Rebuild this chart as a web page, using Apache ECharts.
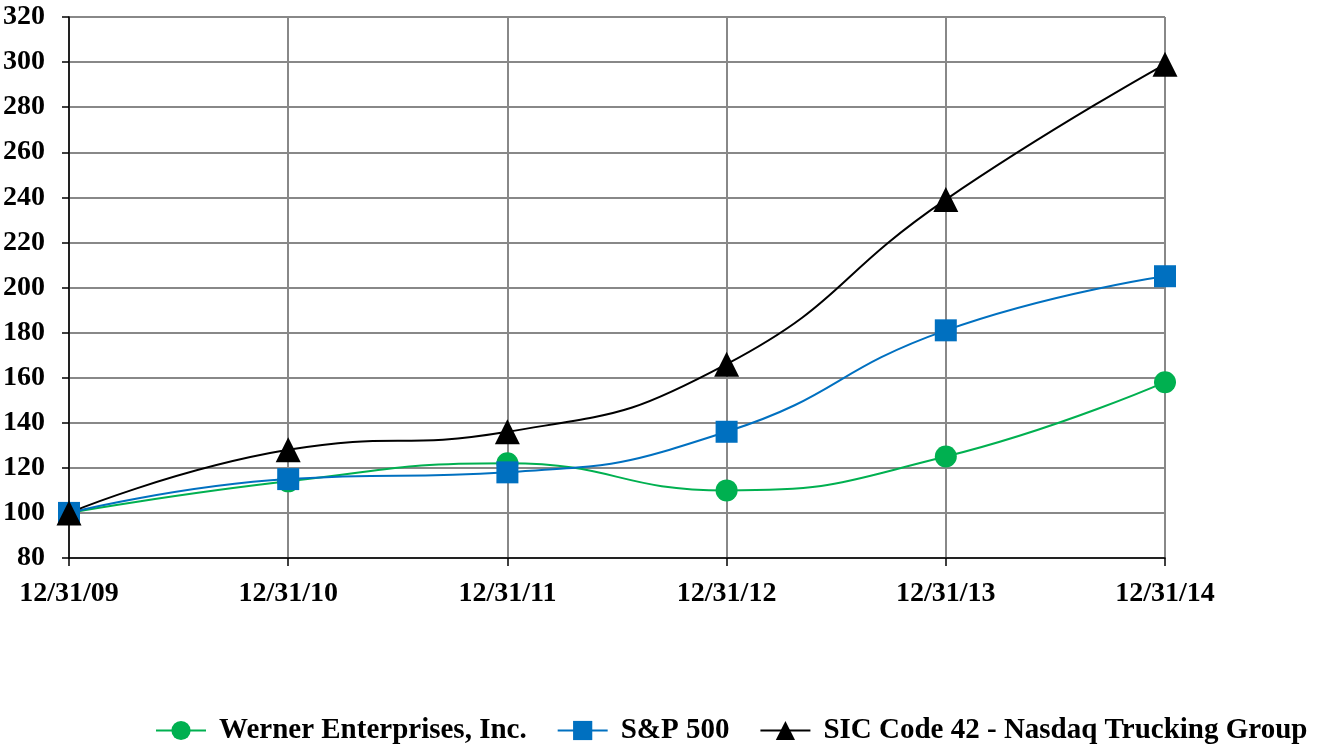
<!DOCTYPE html>
<html>
<head>
<meta charset="utf-8">
<script src="https://cdn.jsdelivr.net/npm/echarts@6/dist/echarts.min.js"></script>
<style>html,body{margin:0;padding:0;background:#fff}#c{width:1326px;height:747px}</style>
</head>
<body>
<div id="c"></div>
<script>
const categories = ['12/31/09','12/31/10','12/31/11','12/31/12','12/31/13','12/31/14'];
const werner = [100, 114, 122, 110, 125, 158];
const sp500 = [100, 115, 118, 136, 181, 205];
const sic42 = [100, 128, 136, 166, 239, 299];
const seriesNames = ['Werner Enterprises, Inc.', 'S&P 500', 'SIC Code 42 - Nasdaq Trucking Group'];

const font = 'Liberation Serif';
const chart = echarts.init(document.getElementById('c'));
function mk(name, data, color, symbol) {
  return {
    name, type: 'line', data, smooth: 0.5,
    symbol, symbolSize: symbol === 'triangle' ? 25 : 22,
    showSymbol: true,
    lineStyle: { color, width: 2 },
    itemStyle: { color, opacity: 1 },
    emphasis: { disabled: true },
    animation: false
  };
}
chart.setOption({
  backgroundColor: '#fff',
  animation: false,
  grid: { left: 69, right: 161, top: 17, bottom: 189, containLabel: false },
  legend: {
    left: 150, top: 711,
    itemWidth: 50, itemHeight: 24, itemGap: 30,
    textStyle: { fontFamily: font, fontWeight: 'bold', fontSize: 29, color: '#000', padding: [0, 0, 0, 8] },
    data: seriesNames
  },
  xAxis: {
    type: 'category', data: categories, boundaryGap: false,
    axisLine: { lineStyle: { color: '#000', width: 1.5 } },
    axisTick: { show: true, length: 8, lineStyle: { color: '#000', width: 1.5 } },
    splitLine: { show: true, lineStyle: { color: '#888', width: 2 } },
    axisLabel: { fontFamily: font, fontWeight: 'bold', fontSize: 28, color: '#000', margin: 22 }
  },
  yAxis: {
    type: 'value', min: 80, max: 320, interval: 20,
    axisLine: { show: true, lineStyle: { color: '#000', width: 1.5 } },
    axisTick: { show: true, length: 7, lineStyle: { color: '#000', width: 1.5 } },
    splitLine: { show: true, lineStyle: { color: '#888', width: 2 } },
    axisLabel: { fontFamily: font, fontWeight: 'bold', fontSize: 28, color: '#000', margin: 24 }
  },
  series: [
    mk(seriesNames[0], werner, '#00B050', 'circle'),
    mk(seriesNames[1], sp500, '#0070C0', 'rect'),
    mk(seriesNames[2], sic42, '#000000', 'triangle')
  ]
});
</script>
</body>
</html>
